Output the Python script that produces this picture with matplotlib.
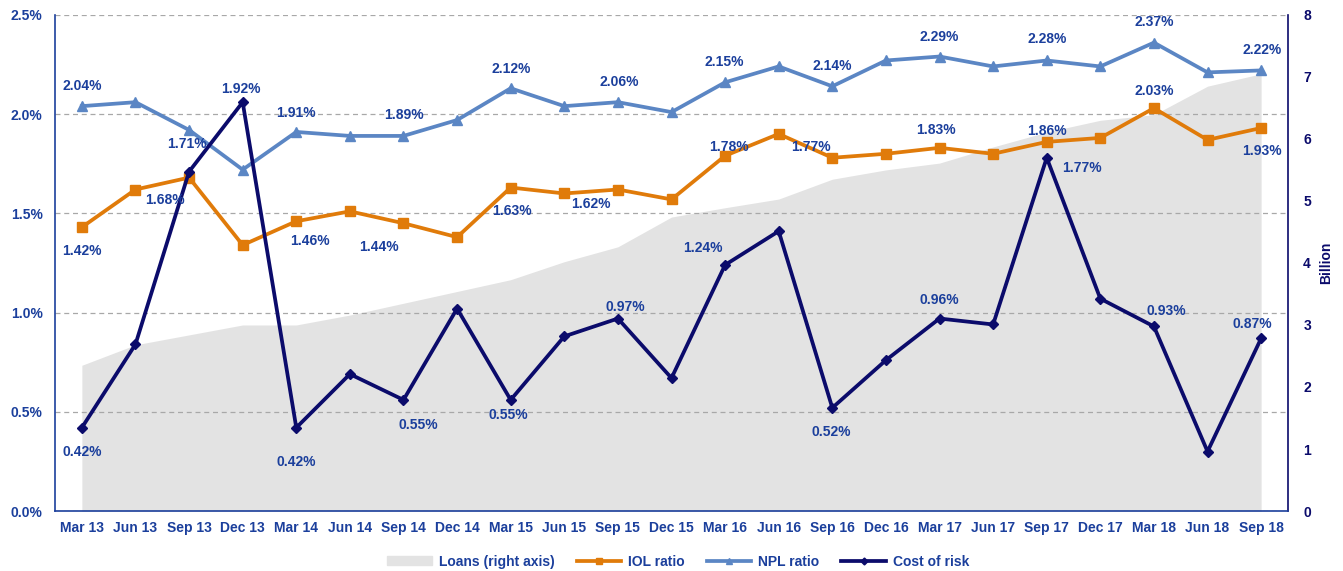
import numpy as np
import matplotlib
matplotlib.use("Agg")
import matplotlib.pyplot as plt
from matplotlib.patches import Patch
from matplotlib.lines import Line2D
import matplotlib.ticker as ticker

plt.rcParams['font.family'] = ['Liberation Sans', 'DejaVu Sans']
plt.rcParams['font.weight'] = 'bold'

quarters = ['Mar 13', 'Jun 13', 'Sep 13', 'Dec 13', 'Mar 14', 'Jun 14', 'Sep 14', 'Dec 14',
            'Mar 15', 'Jun 15', 'Sep 15', 'Dec 15', 'Mar 16', 'Jun 16', 'Sep 16', 'Dec 16',
            'Mar 17', 'Jun 17', 'Sep 17', 'Dec 17', 'Mar 18', 'Jun 18', 'Sep 18']

loans = [2.35, 2.68, 2.84, 3.00, 3.00, 3.16, 3.35, 3.54, 3.73, 4.02, 4.26, 4.74,
         4.89, 5.03, 5.35, 5.50, 5.61, 5.87, 6.11, 6.30, 6.39, 6.85, 7.05]
iol = [1.43, 1.62, 1.68, 1.34, 1.46, 1.51, 1.45, 1.38, 1.63, 1.60, 1.62, 1.57,
       1.79, 1.90, 1.78, 1.80, 1.83, 1.80, 1.86, 1.88, 2.03, 1.87, 1.93]
npl = [2.04, 2.06, 1.92, 1.72, 1.91, 1.89, 1.89, 1.97, 2.13, 2.04, 2.06, 2.01,
       2.16, 2.24, 2.14, 2.27, 2.29, 2.24, 2.27, 2.24, 2.36, 2.21, 2.22]
cost_of_risk = [0.42, 0.84, 1.71, 2.06, 0.42, 0.69, 0.56, 1.02, 0.56, 0.88, 0.97, 0.67,
                1.24, 1.41, 0.52, 0.76, 0.97, 0.94, 1.78, 1.07, 0.93, 0.30, 0.87]

# data labels as printed on the original: (series, quarter index, text)
label_series = ['npl', 'iol', 'cor', 'iol', 'cor', 'cor', 'npl', 'iol', 'cor', 'npl', 'iol', 'cor',
                'npl', 'iol', 'cor', 'npl', 'iol', 'cor', 'npl', 'iol', 'cor', 'npl', 'iol', 'cor',
                'npl', 'iol', 'cor', 'npl', 'iol', 'cor', 'npl', 'iol', 'cor', 'npl', 'iol', 'cor']
label_index = [0, 0, 0, 2, 2, 3, 4, 4, 4, 6, 6, 6,
               8, 8, 8, 10, 10, 10, 12, 12, 12, 14, 14, 14,
               16, 16, 16, 18, 18, 18, 20, 20, 20, 22, 22, 22]
label_text = ['2.04%', '1.42%', '0.42%', '1.68%', '1.71%', '1.92%', '1.91%', '1.46%', '0.42%',
              '1.89%', '1.44%', '0.55%', '2.12%', '1.63%', '0.55%', '2.06%', '1.62%', '0.97%',
              '2.15%', '1.78%', '1.24%', '2.14%', '1.77%', '0.52%', '2.29%', '1.83%', '0.96%',
              '2.28%', '1.86%', '1.77%', '2.37%', '2.03%', '0.93%', '2.22%', '1.93%', '0.87%']
# pixel offsets of each label from its point
label_dx = [0, 0, 0, -24, -2, -2, 0, 14, 0, 0, -25, 15, 0, 1, -2, 1, -27, 7,
            -1, 4, -22, 0, -21, -1, 0, -4, 0, 0, 0, 35, 0, 0, 12, 1, 1, -9]
label_dy = [20, -24, -24, -22, 28, 13, 19, -20, -34, 21, -24, -25, 19, -23, -15, 20, -14, 12,
            20, 9, 17, 20, 11, -24, 20, 18, 19, 21, 11, -10, 21, 17, 15, 20, -23, 14]

text_blue = '#1b3f9c'
navy = '#0b0b6b'
x = np.arange(len(quarters))

fig = plt.figure(figsize=(13.43, 5.71), dpi=100)
ax = fig.add_axes([0.041, 0.105, 0.918, 0.869])
ax2 = ax.twinx()

# loans area on the right axis, drawn underneath
ax2.fill_between(x, 0, loans, color='#e3e3e3', lw=0)
ax2.set_ylim(0, 8)
ax2.set_yticks(range(0, 9))
ax2.tick_params(axis='y', colors=navy, labelsize=10, length=0, pad=11)
ax2.set_ylabel('Billion', color=navy, fontsize=10, fontweight='bold', labelpad=6)

ax.set_zorder(ax2.get_zorder() + 1)
ax.patch.set_visible(False)

series = {
    'iol': ax.plot(x, iol, color='#e07b0a', lw=2.7, marker='s', ms=7, label='IOL ratio')[0],
    'npl': ax.plot(x, npl, color='#5b86c4', lw=2.7, marker='^', ms=7.5, label='NPL ratio')[0],
    'cor': ax.plot(x, cost_of_risk, color=navy, lw=2.7, marker='D', ms=5, label='Cost of risk')[0],
}
values = {'iol': iol, 'npl': npl, 'cor': cost_of_risk}

for s, i, t, dx, dy in zip(label_series, label_index, label_text, label_dx, label_dy):
    ax.annotate(t, (x[i], values[s][i]), xytext=(dx, dy), textcoords='offset pixels',
                ha='center', va='center', color=text_blue, fontsize=10, fontweight='bold')

ax.set_xlim(-0.5, len(quarters) - 0.5)
ax.set_ylim(0, 2.5)
ax.set_yticks(np.arange(0, 2.51, 0.5))
ax.yaxis.set_major_formatter(ticker.FuncFormatter(lambda v, p: f'{v:.1f}%'))
ax.set_xticks(x)
ax.set_xticklabels(quarters)
ax.tick_params(axis='y', colors=text_blue, labelsize=10, length=0, pad=9)
ax.tick_params(axis='x', colors=text_blue, labelsize=10, length=0, pad=7)
ax.grid(axis='y', color='#a8a8a8', ls=(0, (4, 3)), lw=0.9)

for a in (ax, ax2):
    a.spines['top'].set_visible(False)
ax.spines['left'].set_color(text_blue)
ax.spines['bottom'].set_color(text_blue)
ax.spines['right'].set_visible(False)
ax2.spines['left'].set_visible(False)
ax2.spines['bottom'].set_visible(False)
ax2.spines['right'].set_color(navy)
ax.spines['left'].set_linewidth(1.2)
ax.spines['bottom'].set_linewidth(1.2)
ax2.spines['right'].set_linewidth(1.2)

handles = [Patch(color='#e3e3e3', label='Loans (right axis)'),
           Line2D([], [], color='#e07b0a', lw=2.7, marker='s', ms=5, label='IOL ratio'),
           Line2D([], [], color='#5b86c4', lw=2.7, marker='^', ms=5, label='NPL ratio'),
           Line2D([], [], color=navy, lw=2.7, marker='D', ms=3.5, label='Cost of risk')]
leg = fig.legend(handles=handles, loc='lower center', bbox_to_anchor=(0.505, -0.018), ncol=4,
                 frameon=False, fontsize=10, handlelength=3.2, handleheight=0.6,
                 columnspacing=1.6, handletextpad=0.5)
for t in leg.get_texts():
    t.set_color(text_blue)

fig.savefig('out.png', dpi=100)
